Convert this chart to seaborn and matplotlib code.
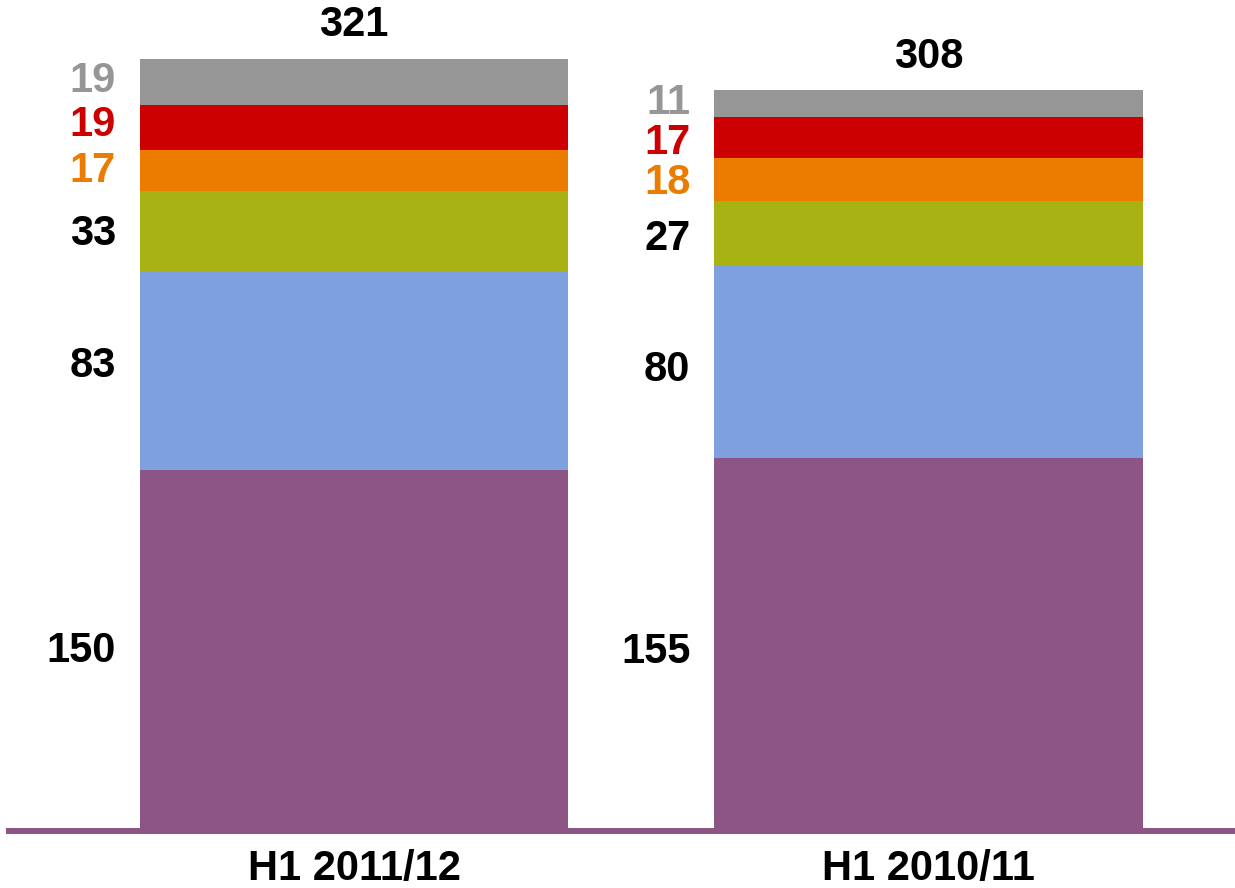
import numpy as np
import pandas as pd
import matplotlib
matplotlib.use("Agg")
import matplotlib.pyplot as plt
import matplotlib.transforms as mtransforms
import seaborn as sns

# Data
categories = ["H1 2011/12", "H1 2010/11"]
segment_names = ["Base", "Second", "Third", "Fourth", "Fifth", "Sixth"]
seg_base = [150, 155]
seg_second = [83, 80]
seg_third = [33, 27]
seg_fourth = [17, 18]
seg_fifth = [19, 17]
seg_sixth = [19, 11]
totals = [321, 308]

segments = [seg_base, seg_second, seg_third, seg_fourth, seg_fifth, seg_sixth]
fill_colors = ["#8C5585", "#7EA0DE", "#A7B213", "#EC7C00", "#CC0000", "#969696"]
label_colors = ["#000000", "#000000", "#000000", "#EC7C00", "#CC0000", "#969696"]

# Vertical nudges (points, downward positive) for the side labels of each bar
label_nudge = [
    [0, -4, 3, 0, -2, -1],
    [7, 8, 6, 4, 6, 0],
]

sns.set_theme(style="white")
plt.rcParams["font.family"] = ["Liberation Sans", "DejaVu Sans"]

fig = plt.figure(figsize=(12.35, 8.88), dpi=100)
ax = fig.add_axes([6 / 1235, 57 / 888, 1 - 6 / 1235, 831 / 888])

vals = np.array(segments, dtype=float)
cum = np.cumsum(vals, axis=0)
bar_w = 0.745

# Stack by drawing cumulative heights from the tallest layer down
for i in range(len(segments) - 1, -1, -1):
    df = pd.DataFrame({"cat": categories, "val": cum[i]})
    sns.barplot(data=df, x="cat", y="val", order=categories, color=fill_colors[i],
                width=bar_w, saturation=1, linewidth=0, ax=ax)

# Segment value labels to the left of each bar
for j in range(len(categories)):
    x_lab = j - bar_w / 2 - 0.042
    for i in range(len(segments)):
        lower = cum[i - 1][j] if i > 0 else 0
        yc = lower + vals[i][j] / 2
        tr = mtransforms.offset_copy(ax.transData, fig=fig, x=0,
                                     y=-label_nudge[j][i] * 0.72, units="points")
        ax.text(x_lab, yc, f"{int(vals[i][j])}", ha="right", va="center",
                fontsize=30, fontweight="bold", color=label_colors[i], transform=tr)
    ax.text(j, totals[j] + 14, f"{totals[j]}", ha="center", va="center",
            fontsize=30, fontweight="bold", color="black")

ax.set_xlim(-0.6057, 1.5335)
ax.set_ylim(0, 345.5)
ax.set_xlabel("")
ax.set_ylabel("")
ax.set_yticks([])
for side in ["top", "right", "left"]:
    ax.spines[side].set_visible(False)
ax.spines["bottom"].set_color("#8C5585")
ax.spines["bottom"].set_linewidth(4.3)
ax.spines["bottom"].set_capstyle("butt")
ax.tick_params(axis="x", length=0, pad=13)
for lbl in ax.get_xticklabels():
    lbl.set_fontsize(30)
    lbl.set_fontweight("bold")
    lbl.set_color("black")

fig.savefig("out.png", dpi=100, facecolor="white")
